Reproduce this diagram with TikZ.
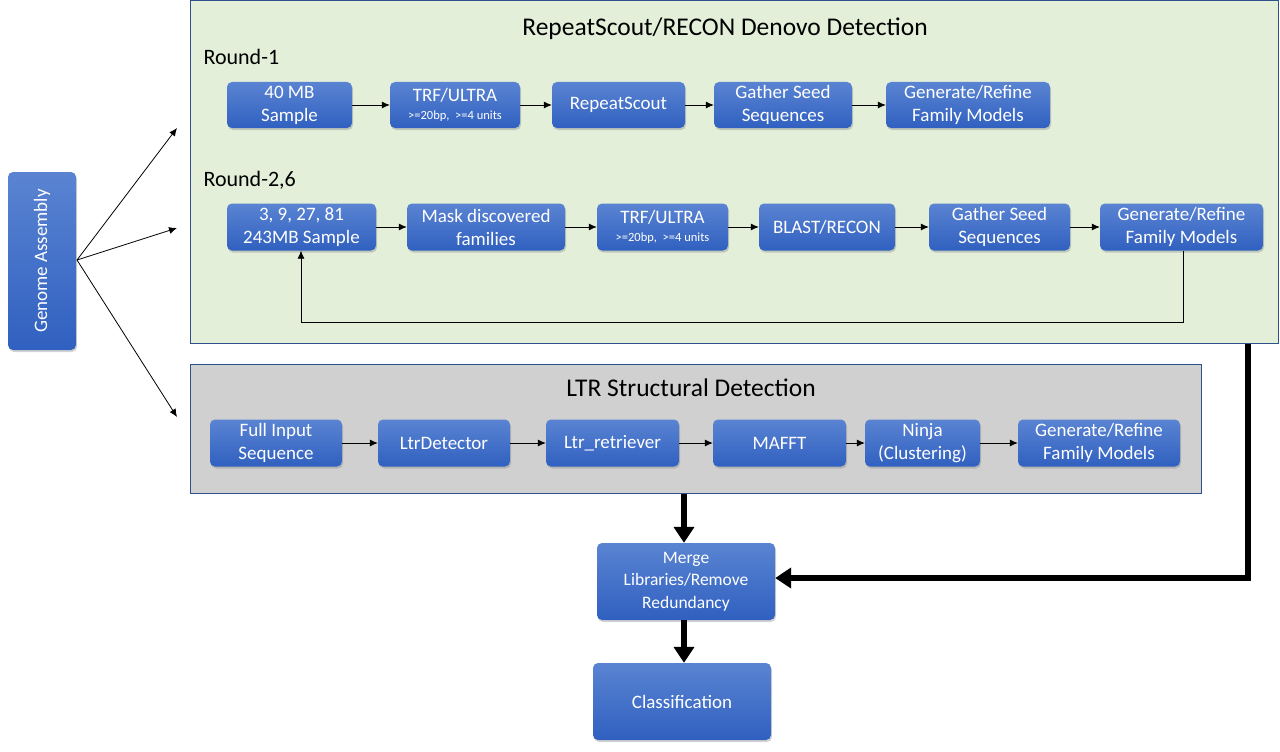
\documentclass[tikz,border=0pt]{standalone}
\usepackage{fontspec}
\setmainfont{Carlito}
\usetikzlibrary{arrows.meta,shadows,calc}
\begin{document}
\begin{tikzpicture}[x=1pt,y=-1pt,
  blk/.style={rounded corners=5pt, top color=blue1, bottom color=blue2, draw=none,
    text=white, font=\fontsize{19}{23}\selectfont, align=center, inner sep=0pt,
    drop shadow={shadow xshift=1pt, shadow yshift=-2pt, opacity=0.35}},
  arr/.style={-{Latex[length=8pt,width=7pt]}, line width=0.8pt},
  thick arr/.style={-{Triangle[length=16pt,width=20pt]}, line width=6pt},
  panel/.style={draw=panelline, line width=0.9pt},
]
\definecolor{blue1}{HTML}{5A84D2}
\definecolor{blue2}{HTML}{3060C0}
\definecolor{greenbg}{HTML}{E3EFD9}
\definecolor{graybg}{HTML}{D0D0D0}
\definecolor{panelline}{HTML}{2F4F8F}
\useasboundingbox (0,0) rectangle (1280,752);

% panels
\node[panel, fill=greenbg, minimum width=1088pt, minimum height=343pt, anchor=north west, inner sep=0pt] (green) at (190,0) {};
\node[panel, fill=graybg, minimum width=1011pt, minimum height=129pt, anchor=north west, inner sep=0pt] (gray) at (190,364) {};

\node[font=\fontsize{25.5}{28}\selectfont] (t1) at (725,29) {RepeatScout/RECON Denovo Detection};
\node[font=\fontsize{22}{24}\selectfont, anchor=west] (r1) at (200,57) {Round-1};
\node[font=\fontsize{22}{24}\selectfont, anchor=west] (r2) at (200,180) {Round-2,6};
\node[font=\fontsize{25.5}{28}\selectfont] (t2) at (691,388) {LTR Structural Detection};

% genome assembly
\node[blk, minimum width=68pt, minimum height=178pt] (ga) at (42,261) {};
\node[rotate=90, text=white, font=\fontsize{19}{21}\selectfont] (gat) at (ga.center) {Genome Assembly};

% round 1
\node[blk, minimum width=125pt, minimum height=46pt] (a1) at (289.5,105) {40 MB\\Sample};
\node[blk, minimum width=130pt, minimum height=46pt] (a2) at (455,105) {TRF/ULTRA\\[-5pt]{\fontsize{12.5}{13}\selectfont >=20bp,\ \ >=4 units}};
\node[blk, minimum width=133pt, minimum height=46pt] (a3) at (618.5,105) {RepeatScout};
\node[blk, minimum width=138pt, minimum height=46pt] (a4) at (783,105) {Gather Seed\\Sequences};
\node[blk, minimum width=164pt, minimum height=46pt] (a5) at (968,105) {Generate/Refine\\Family Models};

% round 2
\node[blk, minimum width=149pt, minimum height=47pt] (b1) at (301.5,227) {3, 9, 27, 81\\243MB Sample};
\node[blk, minimum width=158pt, minimum height=47pt] (b2) at (486,227) {Mask discovered\\families};
\node[blk, minimum width=131pt, minimum height=47pt] (b3) at (662.5,227) {TRF/ULTRA\\[-5pt]{\fontsize{12.5}{13}\selectfont >=20bp,\ \ >=4 units}};
\node[blk, minimum width=136pt, minimum height=47pt] (b4) at (827,227) {BLAST/RECON};
\node[blk, minimum width=141pt, minimum height=47pt] (b5) at (999.5,227) {Gather Seed\\Sequences};
\node[blk, minimum width=163pt, minimum height=47pt] (b6) at (1181.5,227) {Generate/Refine\\Family Models};

% LTR
\node[blk, minimum width=132pt, minimum height=47pt] (c1) at (276,443) {Full Input\\Sequence};
\node[blk, minimum width=132pt, minimum height=47pt] (c2) at (444,443) {LtrDetector};
\node[blk, minimum width=133pt, minimum height=47pt] (c3) at (612.5,443) {Ltr\_retriever};
\node[blk, minimum width=133pt, minimum height=47pt] (c4) at (779.5,443) {MAFFT};
\node[blk, minimum width=115pt, minimum height=47pt] (c5) at (922.5,443) {Ninja\\(Clustering)};
\node[blk, minimum width=162pt, minimum height=47pt] (c6) at (1099,443) {Generate/Refine\\Family Models};

% bottom
\node[blk, minimum width=178pt, minimum height=77pt, font=\fontsize{17.5}{22.5}\selectfont] (m) at (686,581.5) {Merge\\Libraries/Remove\\Redundancy};
\node[blk, minimum width=178pt, minimum height=77pt] (cl) at (682,701.5) {Classification};

% arrows
\draw[arr] (a1) -- (a2);
\draw[arr] (a2) -- (a3);
\draw[arr] (a3) -- (a4);
\draw[arr] (a4) -- (a5);
\draw[arr] (b1) -- (b2);
\draw[arr] (b2) -- (b3);
\draw[arr] (b3) -- (b4);
\draw[arr] (b4) -- (b5);
\draw[arr] (b5) -- (b6);
\draw[arr] (c1) -- (c2);
\draw[arr] (c2) -- (c3);
\draw[arr] (c3) -- (c4);
\draw[arr] (c4) -- (c5);
\draw[arr] (c5) -- (c6);

\coordinate (src) at (77,260);
\coordinate (e1) at (177,128);
\coordinate (e2) at (177,228);
\coordinate (e3) at (177,417);
\draw[arr] (src) -- (e1);
\draw[arr] (src) -- (e2);
\draw[arr] (src) -- (e3);

\coordinate (fb1) at (1183,322);
\coordinate (fb2) at (301,322);
\draw[arr] (b6.south -| fb1) -- (fb1) -- (fb2) -- (b1.south -| fb2);

\draw[thick arr] (gray.south -| 684,0) -- (m.north -| 684,0);
\draw[thick arr] (m.south -| 684,0) -- (cl.north -| 684,0);
\coordinate (rb) at (1248,578);
\draw[thick arr] (green.south -| rb) -- (rb) -- (m.east |- rb);
\end{tikzpicture}
\end{document}
